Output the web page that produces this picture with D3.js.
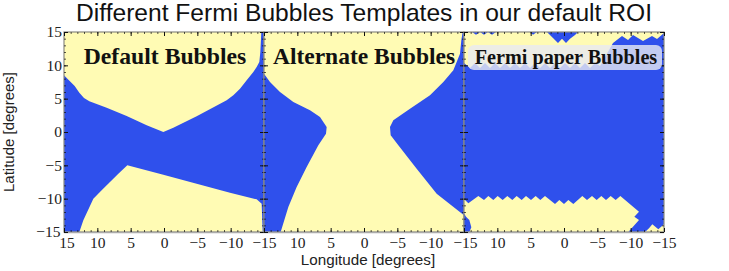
<!DOCTYPE html>
<html>
<head>
<meta charset="utf-8">
<script src="https://cdn.jsdelivr.net/npm/d3@7"></script>
<style>
  html, body { margin: 0; padding: 0; background: #fff; }
  .tick text { font-family: "Liberation Serif", serif; font-size: 15.5px; fill: #222; }
</style>
</head>
<body>
<div id="chart"></div>
<script>
// Yellow regions of each template, [longitude, latitude]
var defaultUpper = [[15, 15], [15, 8.5], [14.3, 7.8], [13.4, 6.9], [12.7, 5.9], [12, 5.1], [11.2, 4.6], [8.6, 3.65], [5.6, 2.4],
  [2.6, 1], [0.1, 0], [-1.4, 0.65], [-4.9, 2.35], [-9.4, 4.75], [-10.4, 5.5], [-11.4, 6.5], [-12.4, 7.75], [-13.4, 9],
  [-13.9, 9.75], [-14.3, 10.5], [-14.45, 12], [-14.6, 15]];
var defaultLower = [[12.7, -15], [12.1, -13.25], [10.6, -10], [9.35, -8.75], [6.85, -6.25], [5.5, -5], [0.1, -6.4],
  [-4.9, -7.75], [-9.9, -9.1], [-13.9, -10.1], [-14.65, -10.75], [-14.8, -15]];
var alternateHourglass = [[15, 15], [15, 8.75], [14.1, 7.5], [12.6, 6], [10.6, 4.5], [8.1, 3.25], [6.6, 2.25], [5.6, 0.75],
  [5.7, -0.25], [6.85, -2], [8.6, -5.25], [10.1, -8.25], [11.35, -11.25], [12.5, -15], [-15, -15], [-15, -12.5],
  [-10.9, -9.25], [-7.9, -5.5], [-5.15, -2], [-4, -0.5], [-3.9, 0.75], [-4.4, 1.75], [-6.9, 3.5], [-9.9, 5.5],
  [-11.9, 7.5], [-13.4, 9.25], [-14.4, 11.75], [-14.6, 13.75], [-14.8, 15]];
var fermiLower = [[15, -10.05], [14.35, -10.7], [12.85, -9.6], [12, -10.2], [11.35, -9.6], [10.6, -10.2], [9.95, -9.6],
  [9.2, -10.2], [8.5, -9.6], [7.75, -10.2], [7.1, -9.6], [6.35, -10.2], [5.7, -9.6], [4.95, -10.2], [4.25, -9.6],
  [3.55, -10.2], [2.85, -9.6], [1.35, -10.8], [0.7, -10.2], [0, -10.8], [-0.65, -10.2], [-1.4, -10.8], [-2.75, -9.6],
  [-3.45, -10.2], [-4.2, -9.6], [-4.9, -10.2], [-5.6, -9.6], [-6.3, -10.2], [-7, -9.6], [-7.75, -10.2], [-8.45, -9.6],
  [-11.25, -11.95], [-10.55, -12.7], [-11.25, -13.2], [-9.65, -15], [14.2, -15], [13.9, -14.3], [14.2, -13.2],
  [14.7, -12.7], [15, -12.2]];
var fermiCorner = [[-12.15, -15], [-12.75, -14.45], [-13.25, -13.85], [-14.15, -14.6], [-15, -13.85], [-15, -15]];
var fermiTop = [[15, 15], [13.8, 15], [13.2, 14.6], [12.6, 15], [12, 14.6], [11.4, 15], [10.8, 14.6], [10.2, 15], [5.1, 15],
  [4.65, 14.6], [4.05, 15], [2.55, 15], [1.65, 14.1], [0.9, 13.35], [0.3, 14], [-0.3, 13.35], [-0.9, 14], [-1.65, 14.55],
  [-2.1, 15], [-15, 15], [-15, 14.85], [-13.95, 13.95], [-13.2, 14.4], [-11.85, 13.65], [-10.35, 14.55], [-9.6, 13.8],
  [-8.7, 14.4], [-7.35, 13.35], [-5.4, 9.9], [-4.65, 10.35], [-3.9, 9.6], [-3.15, 10.35], [-2.4, 9.6], [-1.65, 10.35],
  [-0.9, 9.6], [-0.15, 10.35], [0.6, 9.6], [1.35, 10.35], [2.1, 9.6], [2.85, 10.35], [3.6, 9.6], [4.35, 10.35], [5.1, 9.6],
  [5.85, 10.35], [6.6, 9.6], [7.35, 10.35], [8.1, 9.6], [8.85, 10.35], [9.6, 9.6], [10.35, 10.35], [11.1, 9.6],
  [11.85, 10.35], [12.6, 9.6], [13.35, 10.35], [14.1, 9.6], [15, 10.35]];

var majorTicks = [15, 10, 5, 0, -5, -10, -15];
var minorTicks = [15, 14, 13, 12, 11, 10, 9, 8, 7, 6, 5, 4, 3, 2, 1, 0, -1, -2, -3, -4, -5, -6, -7, -8, -9, -10, -11, -12, -13, -14, -15];
// the 15 of the later panels sits under the -15 of the panel before
var innerLabels = [10, 5, 0, -5, -10, -15];

var bubbles = [
  { name: "Default Bubbles", regions: [defaultUpper, defaultLower], xLabels: majorTicks },
  { name: "Alternate Bubbles", regions: [alternateHourglass], xLabels: innerLabels },
  { name: "Fermi paper Bubbles", regions: [fermiLower, fermiCorner, fermiTop], xLabels: innerLabels }
];

var svgWidth = 729;
var svgHeight = 271;
var margin = { top: 32, left: 64 };
var panelSize = 200;

var blue = "#2f50ec";
var yellow = "#fffbb4";
var frame = "#8a8a82";

var svg = d3.select("#chart")
  .append("svg")
  .attr("width", svgWidth)
  .attr("height", svgHeight)
  .style("display", "block");

var xScale = d3.scaleLinear().domain([15, -15]).range([0, panelSize]);
var yScale = d3.scaleLinear().domain([15, -15]).range([0, panelSize]);

var region = d3.line()
  .x(d => xScale(d[0]))
  .y(d => yScale(d[1]))
  .curve(d3.curveLinearClosed);

function fmt(d) {
  return d < 0 ? "\u2212" + Math.abs(d) : "" + d;
}

svg.append("defs").append("clipPath")
  .attr("id", "panelClip")
  .append("rect")
  .attr("width", panelSize)
  .attr("height", panelSize);

// fills first, so the next panel's ticks land on top of them
var panels = svg.selectAll("g.panel")
  .data(bubbles)
  .enter()
  .append("g")
  .classed("panel", true)
  .attr("transform", (d, i) => `translate(${margin.left + i * panelSize}, ${margin.top})`);

panels.append("rect")
  .attr("width", panelSize)
  .attr("height", panelSize)
  .attr("fill", blue);

panels.append("g")
  .attr("clip-path", "url(#panelClip)")
  .selectAll("path")
  .data(d => d.regions)
  .enter()
  .append("path")
  .attr("d", region)
  .attr("fill", yellow);

// tick marks on all four sides, major and minor
function drawTicks(g, axisFn, scale, tickSize, transform) {
  g.append("g")
    .attr("transform", transform)
    .call(axisFn(scale).tickValues(tickSize > 2 ? majorTicks : minorTicks).tickSize(tickSize).tickFormat(""))
    .call(a => a.select(".domain").remove())
    .call(a => a.selectAll("line").attr("stroke", "#111").attr("stroke-width", tickSize > 2 ? 1 : 0.7));
}

panels.each(function(d, i) {
  var g = d3.select(this);

  g.append("rect")
    .attr("width", panelSize)
    .attr("height", panelSize)
    .attr("fill", "none")
    .attr("stroke", frame)
    .attr("stroke-width", 1.2);
  g.append("line")
    .attr("x1", 0)
    .attr("x2", panelSize)
    .attr("y1", panelSize + 0.5)
    .attr("y2", panelSize + 0.5)
    .attr("stroke", "#aaa")
    .attr("stroke-width", 1.5);

  [4, 2].forEach(function(size) {
    drawTicks(g, d3.axisTop, xScale, size, `translate(0, ${panelSize})`);
    drawTicks(g, d3.axisBottom, xScale, size, "translate(0, 0)");
    drawTicks(g, d3.axisLeft, yScale, size, `translate(${panelSize}, 0)`);
    drawTicks(g, d3.axisRight, yScale, size, "translate(0, 0)");
  });

  // x labels, with the ends nudged the way the plot has them
  var xLabels = g.append("g")
    .attr("transform", `translate(0, ${panelSize})`)
    .call(d3.axisBottom(xScale).tickValues(d.xLabels).tickSize(0).tickPadding(5).tickFormat(fmt));
  xLabels.select(".domain").remove();
  xLabels.selectAll(".tick text")
    .attr("dx", t => t === 15 ? 2.5 : (t === -15 && i === 1 ? 1 : 0));
});

// y labels only on the first panel
var yLabels = svg.append("g")
  .attr("transform", `translate(${margin.left}, ${margin.top})`)
  .call(d3.axisLeft(yScale).tickValues(majorTicks).tickSize(0).tickPadding(2).tickFormat(fmt));
yLabels.select(".domain").remove();
yLabels.selectAll(".tick text")
  .attr("dx", t => t === -15 ? -1.5 : 0);

// panel names
var labelSizes = [23.7, 23.5, 20.2];
var labelCenters = [165, 364, 566];

svg.append("rect")
  .attr("x", 468)
  .attr("y", 45)
  .attr("width", 194)
  .attr("height", 25)
  .attr("rx", 6)
  .attr("fill", "#e8eaf2")
  .attr("fill-opacity", 0.8);

svg.selectAll("text.bubbleName")
  .data(bubbles)
  .enter()
  .append("text")
  .classed("bubbleName", true)
  .attr("x", (d, i) => labelCenters[i])
  .attr("y", 64)
  .attr("text-anchor", "middle")
  .attr("font-family", "Liberation Serif, serif")
  .attr("font-weight", "bold")
  .attr("font-size", (d, i) => labelSizes[i])
  .attr("fill", "#111")
  .text(d => d.name);

svg.append("text")
  .attr("x", 364)
  .attr("y", 21)
  .attr("text-anchor", "middle")
  .attr("font-family", "Liberation Sans, sans-serif")
  .attr("font-size", 24.6)
  .attr("fill", "#111")
  .text("Different Fermi Bubbles Templates in our default ROI");

svg.append("text")
  .attr("x", 368)
  .attr("y", 265)
  .attr("text-anchor", "middle")
  .attr("font-family", "Liberation Sans, sans-serif")
  .attr("font-size", 15.2)
  .attr("fill", "#222")
  .text("Longitude [degrees]");

svg.append("text")
  .attr("transform", "translate(14, 132) rotate(-90)")
  .attr("text-anchor", "middle")
  .attr("font-family", "Liberation Sans, sans-serif")
  .attr("font-size", 15)
  .attr("fill", "#222")
  .text("Latitude [degrees]");
</script>
</body>
</html>
